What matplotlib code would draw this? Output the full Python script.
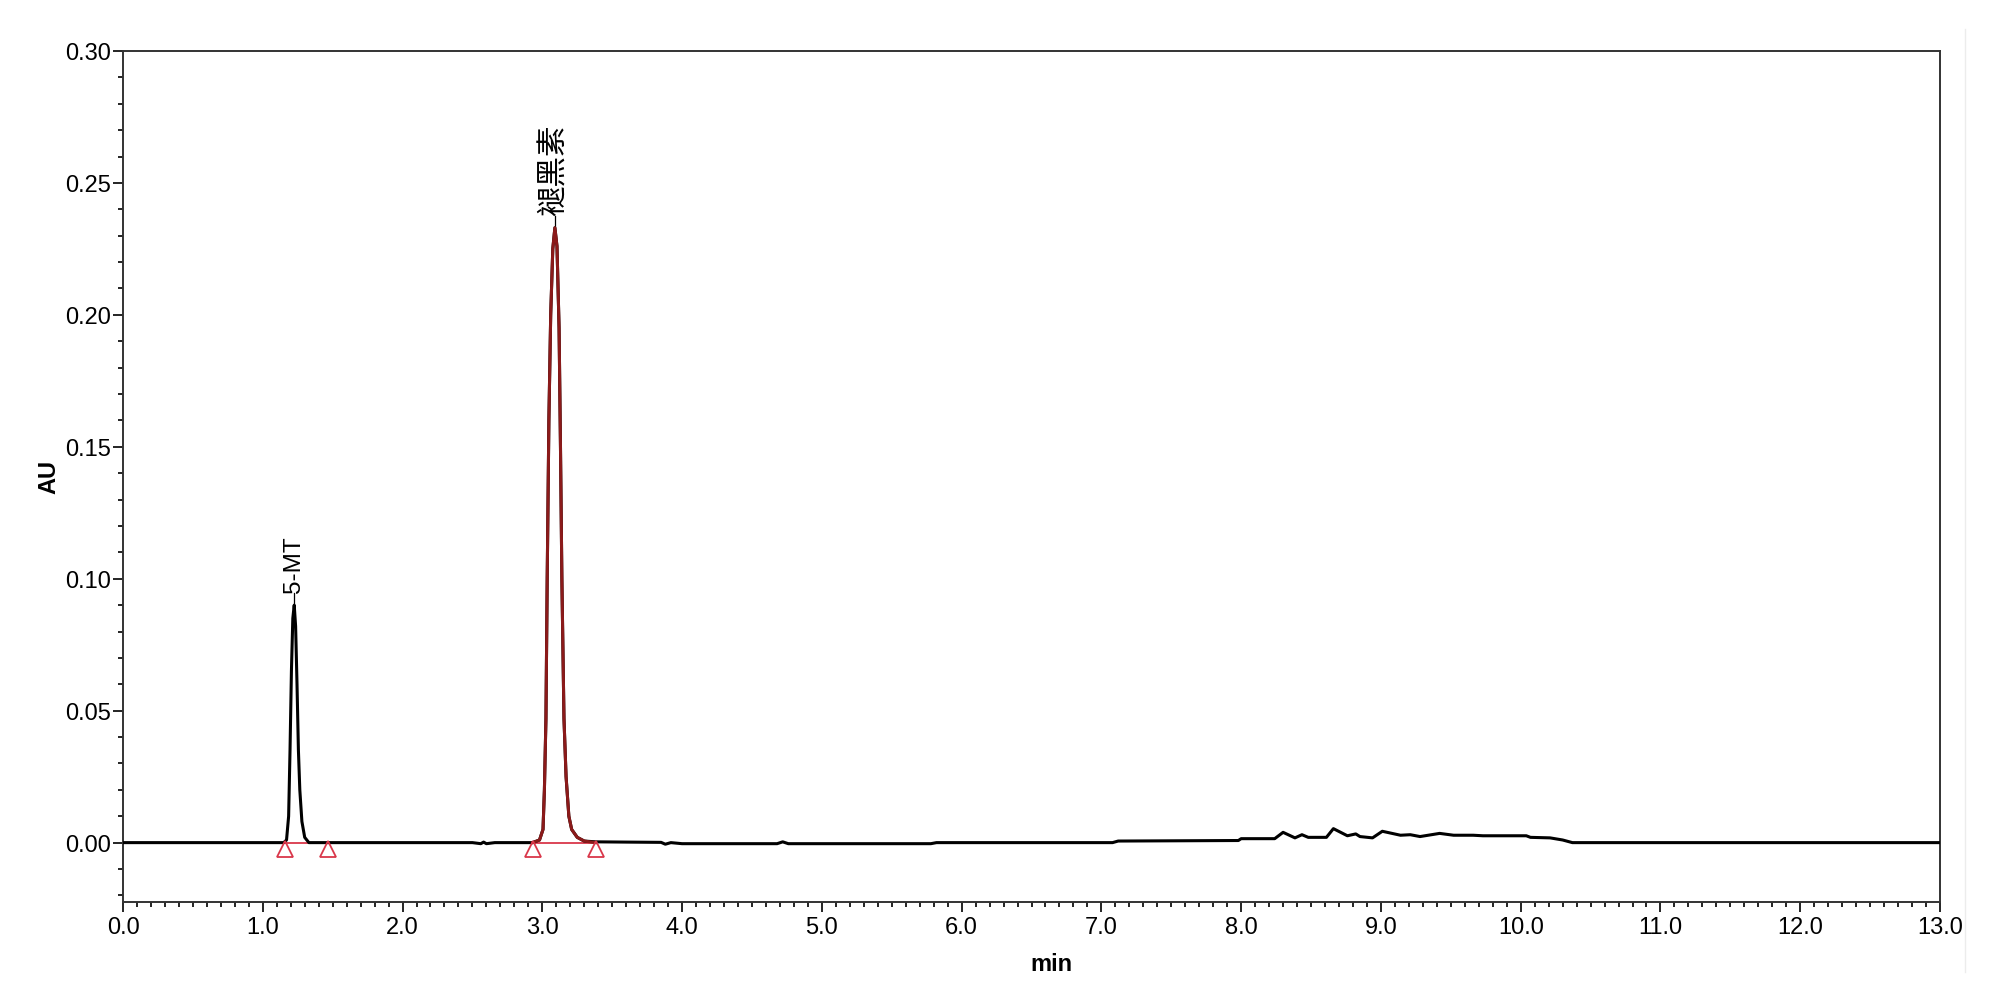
import numpy as np
import matplotlib.pyplot as plt
from matplotlib.ticker import MultipleLocator, FormatStrFormatter

plt.rcParams['font.family'] = ['Liberation Sans', 'Noto Sans CJK SC']

# --- trace (time in min, absorbance in AU) ---
base_t = [0.0, 1.15, 1.33, 2.50, 2.56, 2.58, 2.60, 2.66, 2.93,
          3.38, 3.60, 3.85, 3.88, 3.92, 4.00, 4.68, 4.72, 4.76, 5.78, 5.82,
          7.08, 7.12, 7.98, 8.00, 8.24, 8.30, 8.385, 8.435, 8.48, 8.61,
          8.66, 8.76, 8.82, 8.85, 8.94, 9.01, 9.14, 9.21, 9.28, 9.42, 9.52,
          9.66, 9.73, 10.04, 10.07, 10.21, 10.30, 10.37, 13.0]
base_au = [0.0, 0.0, 0.0, 0.0, -0.0004, 0.0002, -0.0004, 0.0, 0.0,
           0.0003, 0.0002, 0.0001, -0.0006, 0.0, -0.0004, -0.0004, 0.0003, -0.0004, -0.0004, 0.0,
           0.0, 0.0006, 0.0008, 0.0015, 0.0015, 0.0039, 0.0018, 0.0030, 0.0020, 0.0020,
           0.0053, 0.0026, 0.0033, 0.0023, 0.0018, 0.0043, 0.0028, 0.0030, 0.0023, 0.0035, 0.0028,
           0.0028, 0.0026, 0.0026, 0.0020, 0.0018, 0.0010, 0.0, 0.0]

p1_t = [1.15, 1.17, 1.185, 1.195, 1.205, 1.215, 1.225, 1.235, 1.245, 1.255,
        1.265, 1.28, 1.30, 1.33]
p1_au = [0.0, 0.001, 0.010, 0.035, 0.065, 0.085, 0.090, 0.082, 0.060, 0.035,
         0.020, 0.008, 0.002, 0.0]

p2_t = [2.93, 2.98, 3.005, 3.015, 3.026, 3.035, 3.047, 3.06, 3.075, 3.09,
        3.105, 3.12, 3.13, 3.14, 3.155, 3.17, 3.19, 3.21, 3.25, 3.30, 3.38]
p2_au = [0.0, 0.001, 0.005, 0.020, 0.047, 0.100, 0.160, 0.200, 0.225, 0.233,
         0.226, 0.195, 0.150, 0.100, 0.047, 0.025, 0.010, 0.005, 0.002, 0.0006, 0.0]

# peak annotations
peak_names = ['5-MT', '褪黑素']
peak_apex_t = [1.225, 3.09]
peak_apex_au = [0.090, 0.233]
peak_sizes = [17.5, 22]
# integration start / end marks
mark_t = [1.16, 1.47, 2.935, 3.385]

# --- assemble trace ---
t = np.array(base_t + p1_t[1:-1] + p2_t[1:-1])
au = np.array(base_au + p1_au[1:-1] + p2_au[1:-1])
order = np.argsort(t, kind='stable')
t, au = t[order], au[order]

fig = plt.figure(figsize=(20, 10.03), dpi=100)
ax = fig.add_axes([0.0615, 0.0997, 0.9085, 0.8485])

ax.plot(t, au, color='black', lw=2.2, zorder=3)
ax.plot(p2_t, p2_au, color='#8b1a1a', lw=2.2, zorder=4)

# integration baselines and marks
red = '#d9374a'
for a, b in [(mark_t[0], mark_t[1]), (mark_t[2], mark_t[3])]:
    ax.plot([a, b], [0, 0], color=red, lw=1.3, zorder=2)
ax.plot(mark_t, [-0.0025] * len(mark_t), linestyle='none', marker='^',
        markersize=11, markerfacecolor='none', markeredgecolor=red,
        markeredgewidth=1.3, zorder=5)

# peak labels
for name, pt, pa, fs in zip(peak_names, peak_apex_t, peak_apex_au, peak_sizes):
    ax.plot([pt, pt], [pa + 0.0005, pa + 0.0045], color='black', lw=0.9)
    ax.text(pt, pa + 0.0048, name, rotation=90, ha='center', va='bottom',
            fontsize=fs)

ax.set_xlim(0, 13)
ax.set_ylim(-0.0225, 0.30)
ax.xaxis.set_major_locator(MultipleLocator(1.0))
ax.xaxis.set_minor_locator(MultipleLocator(0.1))
ax.yaxis.set_major_locator(MultipleLocator(0.05))
ax.yaxis.set_minor_locator(MultipleLocator(0.01))
ax.xaxis.set_major_formatter(FormatStrFormatter('%.1f'))
ax.yaxis.set_major_formatter(FormatStrFormatter('%.2f'))
ax.tick_params(which='major', length=7, width=1.2, labelsize=17, pad=3)
ax.tick_params(which='minor', length=3.5, width=1.2)
ax.tick_params(axis='y', which='major', pad=2)

for s in ax.spines.values():
    s.set_color('#333333')
    s.set_linewidth(1.4)

fig.text(0.5255, 0.038, 'min', ha='center', va='center', fontsize=17,
         fontweight='bold')
fig.text(0.0245, 0.524, 'AU', ha='center', va='center', fontsize=17,
         fontweight='bold', rotation=90)

fig.add_artist(plt.Line2D([0.9825, 0.9825], [0.03, 0.97], color='#ececec',
                          lw=1.0))

fig.savefig('out.png', dpi=100)
